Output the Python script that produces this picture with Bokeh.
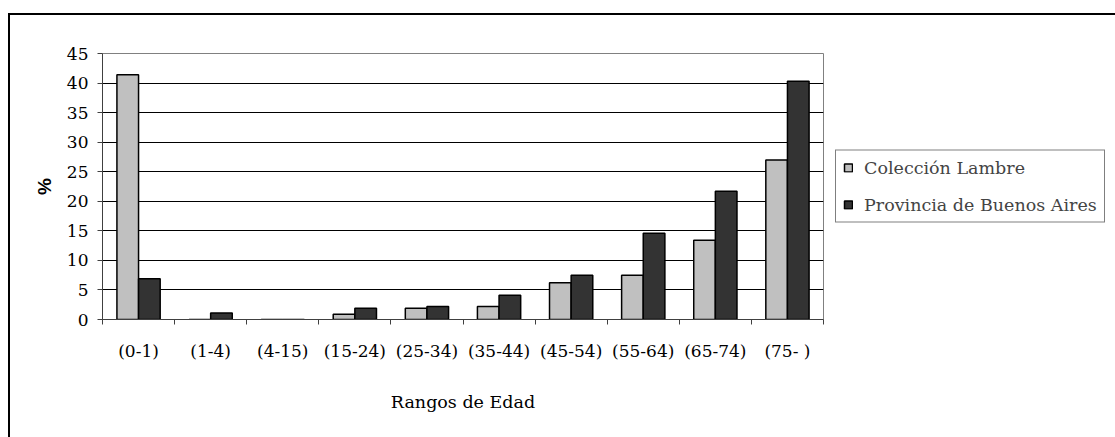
from bokeh.plotting import figure
from bokeh.models import (FixedTicker, Legend, LegendItem,
                          ColumnDataSource, Range1d)
from bokeh.transform import dodge
from bokeh.embed import file_html
from bokeh.resources import INLINE

categories = ["(0-1)", "(1-4)", "(4-15)", "(15-24)", "(25-34)", "(35-44)",
              "(45-54)", "(55-64)", "(65-74)", "(75- )"]
coleccion_lambre = [41.4, 0.0, 0.0, 0.9, 1.9, 2.2, 6.2, 7.5, 13.4, 27.0]
provincia_bsas = [6.9, 1.1, 0.0, 1.9, 2.2, 4.1, 7.5, 14.6, 21.7, 40.3]
y_ticks = [0, 5, 10, 15, 20, 25, 30, 35, 40, 45]
series_names = ["Colección Lambre", "Provincia de Buenos Aires"]

centers = [i + 0.5 for i in range(len(categories))]
src = ColumnDataSource(dict(x=centers, a=coleccion_lambre, b=provincia_bsas))

SERIF = "DejaVu Serif"

p = figure(frame_width=721, frame_height=266,
           x_range=Range1d(0, len(categories)), y_range=Range1d(0, 45),
           output_backend="svg", toolbar_location=None,
           min_border_left=92, min_border_right=292, min_border_top=38,
           min_border_bottom=118)
p.styles = {"margin-left": "8px", "margin-top": "13px",
            "border-left": "2px solid black", "border-top": "2px solid black"}
p.outline_line_color = "#808080"
p.outline_line_width = 1

r1 = p.vbar(x=dodge("x", -0.15), top="a", width=0.3, source=src,
            fill_color="#C0C0C0", line_color="black", line_width=1.5)
r2 = p.vbar(x=dodge("x", 0.15), top="b", width=0.3, source=src,
            fill_color="#333333", line_color="black", line_width=1.5)

# grid
p.xgrid.grid_line_color = None
p.ygrid.grid_line_color = "black"
p.ygrid.grid_line_width = 1
p.ygrid.ticker = FixedTicker(ticks=y_ticks)

# y axis
ya = p.yaxis[0]
ya.ticker = FixedTicker(ticks=y_ticks)
ya.axis_line_color = "#404040"
ya.major_tick_line_color = "#404040"
ya.major_tick_out = 5
ya.major_tick_in = 0
ya.minor_tick_out = 0
ya.minor_tick_in = 0
ya.major_label_text_font = SERIF
ya.major_label_text_font_size = "17px"
ya.major_label_text_color = "black"
ya.major_label_standoff = 9
ya.axis_label = "%"
ya.axis_label_text_font = "Liberation Sans"
ya.axis_label_text_font_style = "bold"
ya.axis_label_text_font_size = "19px"
ya.axis_label_text_color = "black"
ya.axis_label_standoff = 9

# x axis
xa = p.xaxis[0]
xa.ticker = FixedTicker(ticks=centers, minor_ticks=list(range(len(categories) + 1)))
xa.major_label_overrides = {c: lab for c, lab in zip(centers, categories)}
xa.axis_line_color = "#404040"
xa.major_tick_out = 0
xa.major_tick_in = 0
xa.minor_tick_line_color = "#404040"
xa.minor_tick_out = 5
xa.minor_tick_in = 0
xa.major_label_text_font = SERIF
xa.major_label_text_font_size = "17px"
xa.major_label_text_color = "black"
xa.major_label_standoff = 16
xa.axis_label = "Rangos de Edad"
xa.axis_label_text_font = SERIF
xa.axis_label_text_font_style = "normal"
xa.axis_label_text_font_size = "17.5px"
xa.axis_label_text_color = "black"
xa.axis_label_standoff = 28

legend = Legend(items=[LegendItem(label=series_names[0], renderers=[r1]),
                       LegendItem(label=series_names[1], renderers=[r2])],
                location="center_left", margin=12, padding=7, spacing=17,
                glyph_width=10, glyph_height=10, label_standoff=11,
                label_height=19,
                label_text_font=SERIF, label_text_font_size="17.5px",
                border_line_color="black", border_line_width=1,
                background_fill_color="white", background_fill_alpha=1)
p.add_layout(legend, "right")

open("out.html", "w").write(file_html(p, INLINE))
